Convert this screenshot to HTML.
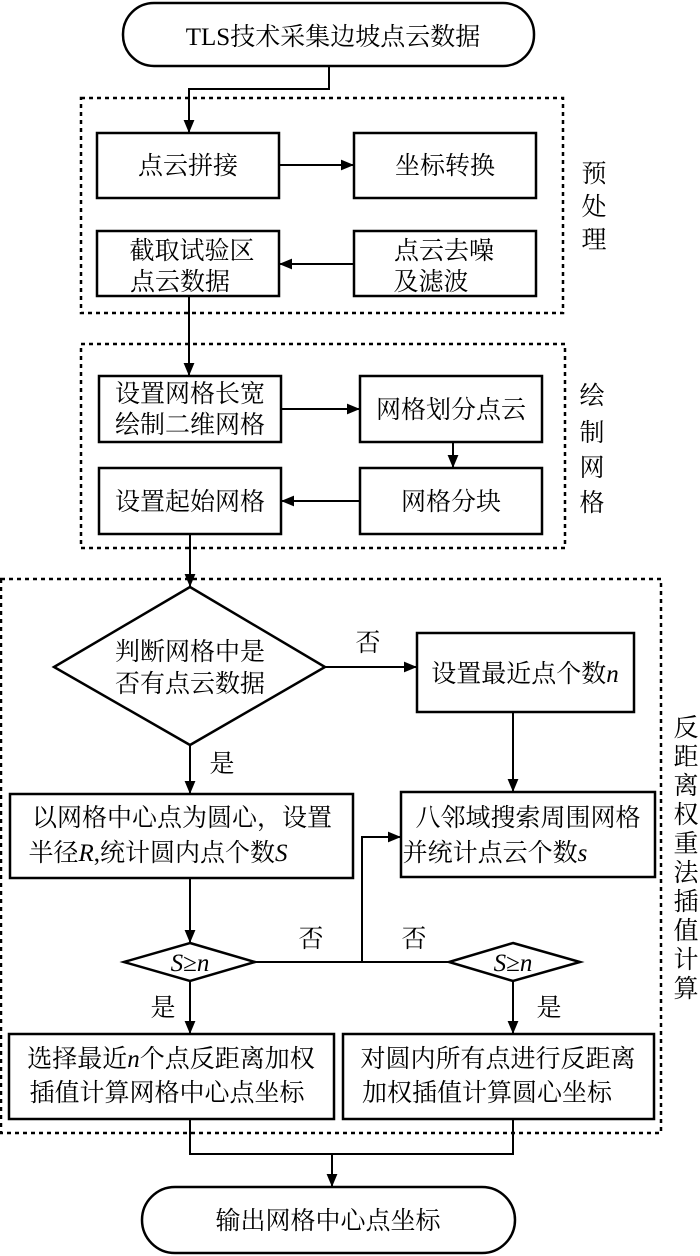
<!DOCTYPE html>
<html><head><meta charset="utf-8"><style>
html,body{margin:0;padding:0;background:#fff}
svg{display:block}
text{font-family:"Liberation Serif","Noto Serif CJK SC",serif;font-size:25px;fill:#000}
</style></head><body>
<svg width="700" height="1256" viewBox="0 0 700 1256" xmlns="http://www.w3.org/2000/svg">
<defs><marker id="a" viewBox="0 0 10 10" refX="10" refY="5" markerWidth="8" markerHeight="8" markerUnits="userSpaceOnUse" orient="auto"><path d="M0,0L10,5L0,10z" fill="#000"/></marker>
<marker id="b" viewBox="0 0 12 10" refX="12" refY="5" markerWidth="13" markerHeight="11" markerUnits="userSpaceOnUse" orient="auto"><path d="M0,0L12,5L0,10z" fill="#000"/></marker></defs>
<g fill="none" stroke="#000" stroke-width="2.5">
<rect x="123" y="3" width="411" height="63" rx="31"/>
<rect x="142" y="1187" width="373" height="66" rx="33"/>
<g stroke-dasharray="4,4" stroke-width="2.5">
<rect x="81" y="98" width="482" height="215"/>
<rect x="81" y="344" width="484" height="204"/>
<rect x="1" y="579" width="660" height="554"/>
</g>
<rect x="97" y="133" width="182" height="65"/>
<rect x="354" y="133" width="182" height="65"/>
<rect x="97" y="231" width="182" height="65"/>
<rect x="354" y="231" width="182" height="65"/>
<rect x="99" y="376" width="182" height="66"/>
<rect x="360" y="376" width="182" height="66"/>
<rect x="99" y="468" width="182" height="66"/>
<rect x="360" y="468" width="182" height="66"/>
<polygon points="190,587 325,667 190,745 54,667"/>
<rect x="417" y="633" width="217" height="79"/>
<rect x="10" y="794" width="343" height="84"/>
<rect x="401" y="792" width="254" height="85"/>
<polygon points="190,943 255,962 190,981 124,962"/>
<polygon points="513,943 580,962 513,981 449,962"/>
<rect x="9" y="1034" width="325" height="85"/>
<rect x="343" y="1034" width="311" height="85"/>
</g>
<g fill="none" stroke="#000" stroke-width="2">
<path d="M329,66V89H189V133" marker-end="url(#b)"/>
<path d="M279,165H354" marker-end="url(#b)"/>
<path d="M354,264H279" marker-end="url(#b)"/>
<path d="M189,296V376" marker-end="url(#b)"/>
<path d="M281,409H360" marker-end="url(#b)"/>
<path d="M453,442V468" marker-end="url(#b)"/>
<path d="M360,501H281" marker-end="url(#b)"/>
<path d="M190,534V587" marker-end="url(#b)"/>
<path d="M325,667H417" marker-end="url(#b)"/>
<path d="M513,712V792" marker-end="url(#b)"/>
<path d="M190,745V794" marker-end="url(#b)"/>
<path d="M190,878V943" marker-end="url(#b)"/>
<path d="M255,962H449"/>
<path d="M362,962V837H401" marker-end="url(#b)"/>
<path d="M190,981V1034" marker-end="url(#b)"/>
<path d="M513,981V1034" marker-end="url(#b)"/>
<path d="M190,1119V1154H513V1119"/>
<path d="M332,1154V1187" marker-end="url(#b)"/>
</g>
<g text-anchor="middle">
<text x="333" y="45">TLS技术采集边坡点云数据</text>
<text x="188" y="174">点云拼接</text>
<text x="445" y="174">坐标转换</text>
<text x="192" y="259">截取试验区</text>
<text x="180" y="290" text-anchor="middle">点云数据</text>
<text x="444" y="259">点云去噪</text>
<text x="431" y="290">及滤波</text>
<text x="190" y="402">设置网格长宽</text>
<text x="190" y="433">绘制二维网格</text>
<text x="451" y="418">网格划分点云</text>
<text x="190" y="510">设置起始网格</text>
<text x="451" y="510">网格分块</text>
<text x="190" y="660">判断网格中是</text>
<text x="190" y="692">否有点云数据</text>
<text x="525" y="682">设置最近点个数<tspan font-style="italic">n</tspan></text>
<text x="182" y="826">以网格中心点为圆心，设置</text>
<text x="158" y="861">半径<tspan font-style="italic">R</tspan>,统计圆内点个数<tspan font-style="italic">S</tspan></text>
<text x="528" y="826">八邻域搜索周围网格</text>
<text x="495" y="861">并统计点云个数<tspan font-style="italic">s</tspan></text>
<text x="190" y="971" font-size="22"><tspan font-style="italic">S</tspan>≥<tspan font-style="italic">n</tspan></text>
<text x="513" y="971" font-size="22"><tspan font-style="italic">S</tspan>≥<tspan font-style="italic">n</tspan></text>
<text x="171" y="1067">选择最近<tspan font-style="italic">n</tspan>个点反距离加权</text>
<text x="167" y="1101">插值计算网格中心点坐标</text>
<text x="498" y="1067">对圆内所有点进行反距离</text>
<text x="487" y="1101">加权插值计算圆心坐标</text>
<text x="328" y="1229">输出网格中心点坐标</text>
<text x="368" y="651" font-size="23">否</text>
<text x="222" y="772" font-size="23">是</text>
<text x="311" y="947" font-size="23">否</text>
<text x="414" y="947" font-size="23">否</text>
<text x="163" y="1016" font-size="23">是</text>
<text x="549" y="1016" font-size="23">是</text>
<text x="594" y="182">预</text>
<text x="594" y="215">处</text>
<text x="594" y="248">理</text>
<text x="592" y="404">绘</text>
<text x="592" y="441">制</text>
<text x="592" y="476">网</text>
<text x="592" y="511">格</text>
<text x="686" y="736">反</text>
<text x="686" y="765">距</text>
<text x="686" y="794">离</text>
<text x="686" y="823">权</text>
<text x="686" y="852">重</text>
<text x="686" y="881">法</text>
<text x="686" y="910">插</text>
<text x="686" y="939">值</text>
<text x="686" y="968">计</text>
<text x="686" y="997">算</text>
</g>
</svg>
</body></html>
